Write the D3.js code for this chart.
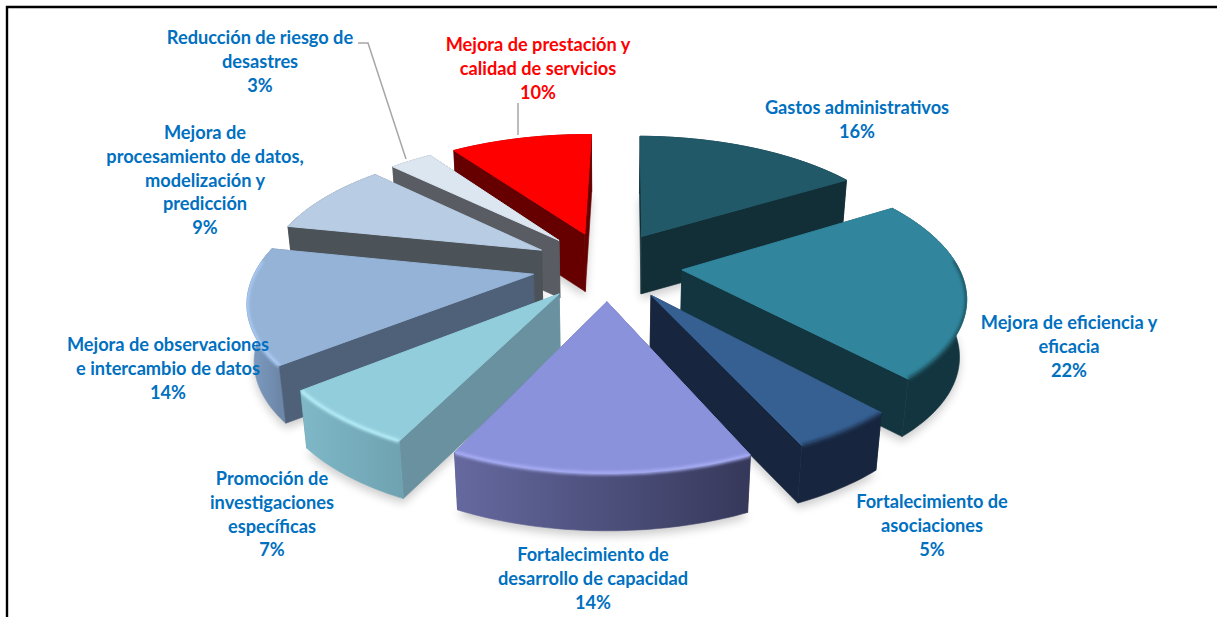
<!DOCTYPE html>
<html>
<head>
<meta charset="utf-8">
<script src="https://cdn.jsdelivr.net/npm/d3@7"></script>
<style>
  body { margin: 0; background: #fff; }
  svg { display: block; }
  text { font-family: Lato, "Open Sans", sans-serif; font-weight: 700; font-size: 18.2px; }
</style>
</head>
<body>
<svg id="chart" width="1217" height="617"></svg>
<script>
// values clockwise from 12 o'clock
const values = [16, 22, 5, 14, 7, 14, 9, 3, 10];
const labels = [
  ["Gastos administrativos"],
  ["Mejora de eficiencia y", "eficacia"],
  ["Fortalecimiento de", "asociaciones"],
  ["Fortalecimiento de", "desarrollo de capacidad"],
  ["Promoción de", "investigaciones", "específicas"],
  ["Mejora de observaciones", "e intercambio de datos"],
  ["Mejora de", "procesamiento de datos,", "modelización y", "predicción"],
  ["Reducción de riesgo de", "desastres"],
  ["Mejora de prestación y", "calidad de servicios"]
];
const topColors = ["#215968", "#31859c", "#366092", "#8b92dc", "#92cddc", "#95b3d7", "#b8cce4", "#dce6f1", "#ff0000"];
const wallColors = ["#122f38", "#133540", "#17263e", "#4c5070", "#6a919f", "#4f6079", "#4c5358", "#595d63", "#660000"];
const outerLeft = ["#122f38", "#133540", "#17263e", "#65699f", "#7fb8c7", "#7f9fc6", "#4c5358", "#595d63", "#660000"];
const outerRight = ["#122f38", "#133540", "#17263e", "#36385a", "#6fa3b2", "#6d87a8", "#4c5358", "#595d63", "#660000"];
const rimColors = [null, "#1d4f5c", "#223a5c", "#a9aff5", "#b8f0fa", "#accdf7", null, null, null];
const labelX = [857, 1069, 932, 593, 272, 168, 205, 260, 538];
const labelY = [113, 328, 507, 560, 484, 350, 138, 43, 50];

const svg = d3.select("#chart");
const lineGap = 23.8;

// flat pie plane -> screen, with some perspective
const cx = 607, cy = 265.5, A = 276, C = 127, persp = 0.175;
const explode = 0.272, depth = 57.5, turn = 0.015;
const project = (u, v) => {
  const s = 1 / (1 - persp * v);
  return [cx + A * u * s, cy + C * v * s];
};
const drop = p => [cx + (p[0] - cx) * 0.98, p[1] + depth];

const arcs = d3.pie().sort(null).value(d => d)(values).map((d, i) => {
  const mid = (d.startAngle + d.endAngle) / 2;
  const at = (t, r) => project(
    r * Math.sin(t + turn) + explode * Math.sin(mid),
    -r * Math.cos(t + turn) - explode * Math.cos(mid)
  );
  const n = Math.ceil((d.endAngle - d.startAngle) / 0.02);
  const ts = d3.range(n + 1).map(k => d.startAngle + (d.endAngle - d.startAngle) * k / n);
  const rim = ts.map(t => at(t, 1));
  // the part of the edge that faces the viewer
  const frontRim = ts.filter(t => Math.cos(t) < 0.1).map(t => at(t, 1));
  return { i, mid, apex: at(0, 0), rim, frontRim, depthOrder: -Math.cos(mid) };
});

const line = d3.line();
const closed = pts => line(pts) + "Z";
const wall = pts => closed(pts.concat(pts.map(drop).reverse()));
const avgY = pts => d3.mean(pts, p => p[1]);

const defs = svg.append("defs");
defs.append("filter").attr("id", "shadowBlur")
  .attr("x", "-20%").attr("y", "-20%").attr("width", "140%").attr("height", "140%")
  .append("feGaussianBlur").attr("stdDeviation", 5);
defs.append("filter").attr("id", "rimBlur")
  .attr("x", "-10%").attr("y", "-30%").attr("width", "120%").attr("height", "160%")
  .append("feGaussianBlur").attr("stdDeviation", 1.6);

// frame, only top and left are in the picture
svg.append("path").attr("d", "M7,617V7H1217").attr("fill", "none").attr("stroke", "#000").attr("stroke-width", 2.4);

// soft shadow on the floor
svg.append("g").selectAll("path").data(arcs).join("path")
  .attr("d", d => closed([d.apex].concat(d.rim).map(drop).map(p => [p[0], p[1] + 5])))
  .attr("fill", "#000").attr("opacity", 0.2).attr("filter", "url(#shadowBlur)");

// back slices first
const ordered = arcs.slice().sort((a, b) => a.depthOrder - b.depthOrder);
ordered.forEach(d => {
  const g = svg.append("g");
  const xs = d3.extent(d.rim, p => p[0]);
  const gradId = "outer" + d.i;
  const grad = defs.append("linearGradient").attr("id", gradId)
    .attr("gradientUnits", "userSpaceOnUse")
    .attr("x1", xs[0]).attr("x2", xs[1]).attr("y1", 0).attr("y2", 0);
  grad.append("stop").attr("offset", 0).attr("stop-color", outerLeft[d.i]);
  grad.append("stop").attr("offset", 1).attr("stop-color", outerRight[d.i]);

  const start = d.rim[0], end = d.rim[d.rim.length - 1];
  const faces = [
    { pts: [d.apex, start], fill: wallColors[d.i] },
    { pts: [d.apex, end], fill: wallColors[d.i] },
    { pts: d.rim, fill: `url(#${gradId})` }
  ].sort((a, b) => avgY(a.pts) - avgY(b.pts));

  faces.forEach(f => {
    g.append("path").attr("d", wall(f.pts)).attr("fill", f.fill)
      .attr("stroke", f.fill).attr("stroke-width", 0.6).attr("stroke-linejoin", "round");
  });
  const topPath = closed([d.apex].concat(d.rim));
  g.append("path").attr("d", topPath).attr("fill", topColors[d.i])
    .attr("stroke", topColors[d.i]).attr("stroke-width", 1).attr("stroke-linejoin", "round");

  // bevel along the front edge, kept inside the slice so it does not bleed on the white
  if (rimColors[d.i]) {
    const clipId = "clip" + d.i;
    const clip = defs.append("clipPath").attr("id", clipId);
    clip.append("path").attr("d", topPath);
    clip.append("path").attr("d", wall(d.rim));
    g.append("g").attr("clip-path", `url(#${clipId})`)
      .append("path").attr("d", line(d.frontRim)).attr("fill", "none")
      .attr("stroke", rimColors[d.i]).attr("stroke-width", 3.5).attr("filter", "url(#rimBlur)");
  }
});

// leader lines
const leaders = [
  [[358, 43], [368, 43], [406, 159]],
  [[518, 103], [518, 135]]
];
svg.append("g").selectAll("path").data(leaders).join("path")
  .attr("d", line).attr("fill", "none").attr("stroke", "#a6a6a6").attr("stroke-width", 1.5);

// labels
const labelG = svg.append("g").selectAll("text").data(values).join("text")
  .attr("text-anchor", "middle")
  .attr("fill", (d, i) => i === 8 ? "#ff0000" : "#0070c0");
labelG.each(function (d, i) {
  const t = d3.select(this);
  labels[i].concat([d + "%"]).forEach((s, k) => {
    t.append("tspan").attr("x", labelX[i]).attr("y", labelY[i] + 1 + k * lineGap).text(s);
  });
});
</script>
</body>
</html>
